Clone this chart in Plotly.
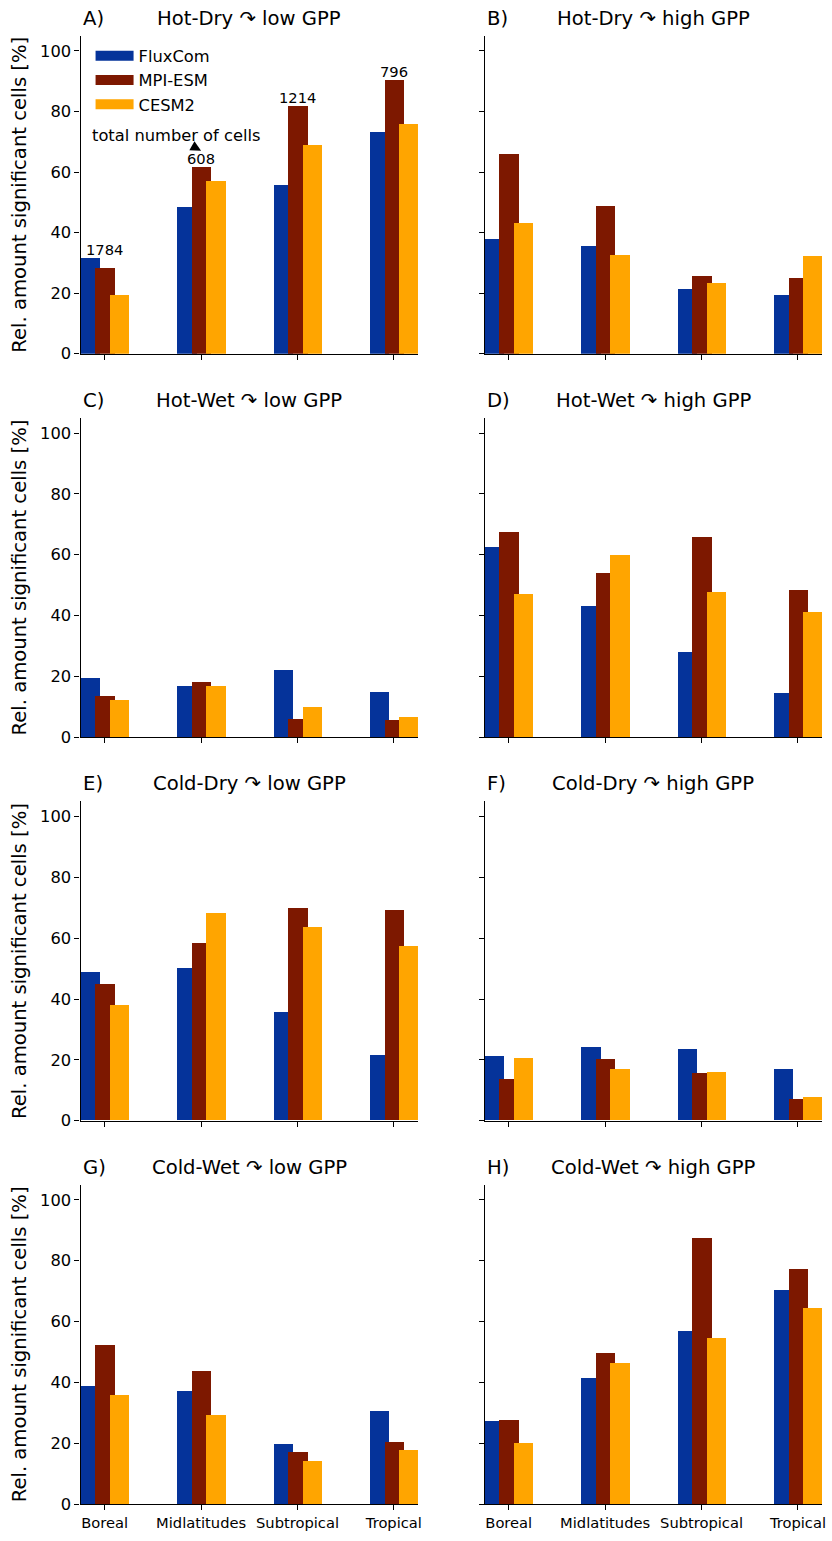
import plotly.graph_objects as go
from plotly.subplots import make_subplots

categories = ["Boreal", "Midlatitudes", "Subtropical", "Tropical"]
models = ["FluxCom", "MPI-ESM", "CESM2"]
colors = ["#05339A", "#7D1800", "#FFA500"]
letters = ["A)", "B)", "C)", "D)", "E)", "F)", "G)", "H)"]
titles = ["Hot-Dry \u21b7 low GPP", "Hot-Dry \u21b7 high GPP",
          "Hot-Wet \u21b7 low GPP", "Hot-Wet \u21b7 high GPP",
          "Cold-Dry \u21b7 low GPP", "Cold-Dry \u21b7 high GPP",
          "Cold-Wet \u21b7 low GPP", "Cold-Wet \u21b7 high GPP"]
total_cells = [1784, 608, 1214, 796]
y_ticks = [0, 20, 40, 60, 80, 100]

# values per panel: FluxCom, MPI-ESM, CESM2
A_flux = [31.7, 48.4, 55.9, 73.2]
A_mpi = [28.4, 61.8, 82.0, 90.5]
A_cesm = [19.3, 57.2, 69.0, 75.8]

B_flux = [37.9, 35.6, 21.6, 19.6]
B_mpi = [66.0, 49.0, 25.8, 25.2]
B_cesm = [43.1, 32.7, 23.5, 32.4]

C_flux = [19.6, 17.0, 22.2, 15.0]
C_mpi = [13.4, 18.3, 5.9, 5.6]
C_cesm = [12.1, 17.0, 10.1, 6.5]

D_flux = [62.7, 43.1, 28.1, 14.7]
D_mpi = [67.6, 53.9, 66.0, 48.4]
D_cesm = [47.1, 60.1, 47.7, 41.2]

E_flux = [48.7, 50.0, 35.6, 21.6]
E_mpi = [44.8, 58.2, 69.9, 69.0]
E_cesm = [37.9, 68.3, 63.7, 57.2]

F_flux = [21.2, 24.2, 23.5, 17.0]
F_mpi = [13.7, 20.3, 15.4, 6.9]
F_cesm = [20.6, 16.7, 16.0, 7.5]

G_flux = [38.9, 37.3, 19.9, 30.7]
G_mpi = [52.6, 43.8, 17.3, 20.6]
G_cesm = [35.9, 29.4, 14.4, 18.0]

H_flux = [27.5, 41.5, 57.2, 70.6]
H_mpi = [27.8, 49.7, 87.6, 77.5]
H_cesm = [20.3, 46.4, 54.9, 64.7]

panels = [
    (A_flux, A_mpi, A_cesm), (B_flux, B_mpi, B_cesm),
    (C_flux, C_mpi, C_cesm), (D_flux, D_mpi, D_cesm),
    (E_flux, E_mpi, E_cesm), (F_flux, F_mpi, F_cesm),
    (G_flux, G_mpi, G_cesm), (H_flux, H_mpi, H_cesm),
]

FONT = "DejaVu Sans"
W, H = 832, 1541
bar_offsets = [-0.25, -0.10, 0.05]
bar_width = 0.2
xpos = list(range(len(categories)))

fig = make_subplots(rows=4, cols=2)

col_px = [(81, 420), (487, 826)]
row_px = [(36, 356), (420.7, 742), (806.7, 1128), (1192.3, 1514)]

for p, series in enumerate(panels):
    r, c = p // 2 + 1, p % 2 + 1
    for m, vals in enumerate(series):
        fig.add_trace(go.Bar(
            x=xpos, y=vals, width=bar_width, offset=bar_offsets[m],
            marker=dict(color=colors[m], line=dict(width=0)),
            name=models[m], showlegend=False, hoverinfo="skip",
        ), row=r, col=c)

# legend entries (wide patches)
for m in range(3):
    fig.add_trace(go.Scatter(
        x=[None], y=[None], mode="lines", name=models[m],
        line=dict(color=colors[m], width=12), showlegend=True,
    ), row=1, col=1)

for p in range(8):
    r, c = p // 2, p % 2
    idx = "" if p == 0 else str(p + 1)
    x0, x1 = col_px[c]
    y0, y1 = row_px[r]
    fig.layout["xaxis" + idx].update(
        domain=[x0 / W, x1 / W], range=[-0.25, 3.25],
        tickvals=xpos, ticktext=categories,
        showticklabels=(r == 3),
        ticks="outside", ticklen=5, tickwidth=1.3, tickcolor="black",
        showline=True, linecolor="black", linewidth=1.3,
        showgrid=False, zeroline=False,
        tickfont=dict(family=FONT, size=14.7, color="black"),
    )
    fig.layout["yaxis" + idx].update(
        domain=[1 - y1 / H, 1 - y0 / H], range=[0, 105],
        tickvals=y_ticks, showticklabels=(c == 0),
        ticks="outside", ticklen=5, tickwidth=1.3, tickcolor="black",
        showline=True, linecolor="black", linewidth=1.3,
        showgrid=False, zeroline=False,
        tickfont=dict(family=FONT, size=16.3, color="black"),
        title=dict(text="Rel. amount significant cells [%]" if c == 0 else "",
                   font=dict(family=FONT, size=19.6, color="black"), standoff=8),
    )
    xr = "x" + idx
    yr = "y" + idx
    fig.add_annotation(x=0, y=1, xref=xr + " domain", yref=yr + " domain",
                       text=letters[p], showarrow=False, xanchor="left", yanchor="bottom",
                       yshift=4, font=dict(family=FONT, size=19.6, color="black"))
    fig.add_annotation(x=0.5, y=1, xref=xr + " domain", yref=yr + " domain",
                       text=titles[p], showarrow=False, xanchor="center", yanchor="bottom",
                       yshift=4, font=dict(family=FONT, size=19.6, color="black"))

# total number of cells above each region (panel A)
for i, n in enumerate(total_cells):
    top = max(A_flux[i], A_mpi[i], A_cesm[i])
    fig.add_annotation(x=xpos[i], y=top + 0.8, xref="x", yref="y", text=str(n),
                       showarrow=False, yanchor="bottom", yshift=-5,
                       font=dict(family=FONT, size=14.7, color="black"))

fig.add_annotation(x=0.744, y=71.9, xref="x", yref="y",
                   text="total number of cells", showarrow=False,
                   font=dict(family=FONT, size=16.3, color="black"))
fig.add_annotation(x=1.0, y=67.0, xref="x", yref="y", ax=-9, ay=-5,
                   text="", showarrow=True,
                   arrowhead=2, arrowsize=1.5, arrowwidth=1.4, arrowcolor="black")

fig.update_layout(
    autosize=True, barmode="overlay",
    margin=dict(l=0, r=0, t=0, b=0),
    paper_bgcolor="white", plot_bgcolor="white",
    font=dict(family=FONT, color="black"),
    bargap=0,
    legend=dict(x=91 / W, y=1 - 39 / H, xanchor="left", yanchor="top",
                bgcolor="rgba(0,0,0,0)", itemwidth=38,
                font=dict(family=FONT, size=16.3, color="black")),
)

post = (
    "document.documentElement.style.cssText='margin:0;padding:0;overflow:hidden;';"
    "document.body.style.cssText='margin:0;padding:0;overflow:hidden;';"
)
fig.write_html("out.html", config={"displayModeBar": False, "responsive": True},
               default_width="100vw", default_height="100vh", post_script=post)
